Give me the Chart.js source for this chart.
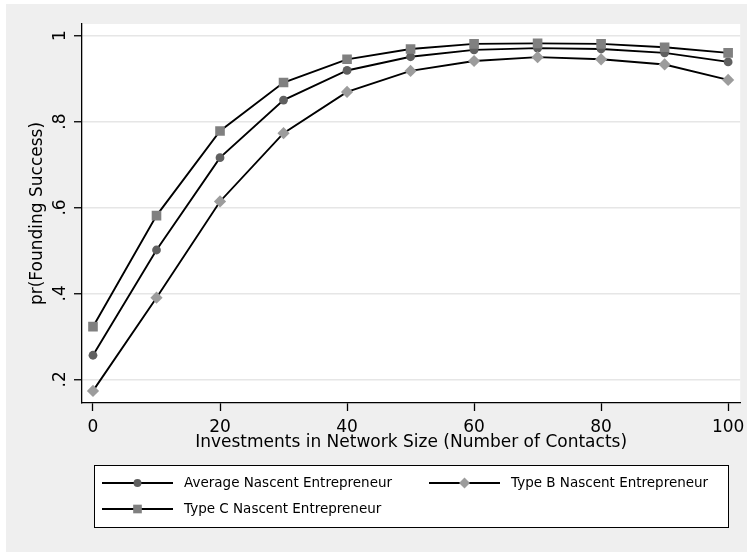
<!DOCTYPE html>
<html>
<head>
<meta charset="utf-8">
<script src="https://cdn.jsdelivr.net/npm/chart.js@4.4.1/dist/chart.umd.min.js"></script>
<style>
html, body { margin: 0; background: #efefef; overflow: hidden; }
#margemTopo { position: fixed; left: 0; top: 0; right: 0; height: 4px; background: #fff; }
#margemEsq { position: fixed; left: 0; top: 0; bottom: 0; width: 6px; background: #fff; }
#quadro { position: absolute; left: 6px; top: 4px; width: 741px; height: 548px; }
#graficoSucesso { display: block; }
</style>
</head>
<body>
<div id="margemTopo"></div>
<div id="margemEsq"></div>
<div id="quadro"><canvas id="graficoSucesso" width="741" height="548"></canvas></div>
<script>
// values
var networkSize = [0, 10, 20, 30, 40, 50, 60, 70, 80, 90, 100];
var averageNascent = [0.256, 0.501, 0.716, 0.850, 0.919, 0.951, 0.967, 0.971, 0.969, 0.960, 0.939];
var typeBNascent = [0.173, 0.390, 0.614, 0.773, 0.869, 0.918, 0.941, 0.950, 0.945, 0.933, 0.897];
var typeCNascent = [0.3225, 0.581, 0.778, 0.891, 0.945, 0.969, 0.981, 0.982, 0.981, 0.973, 0.960];
var seriesNames = ['Average Nascent Entrepreneur', 'Type B Nascent Entrepreneur', 'Type C Nascent Entrepreneur'];
var xTicks = [0, 20, 40, 60, 80, 100];
var yTicks = [0.2, 0.4, 0.6, 0.8, 1];
var yTickLabels = ['.2', '.4', '.6', '.8', '1'];

var fonte = 'DejaVu Sans';

function MontarPontos(valores) {
    return valores.map(function (v, i) { return { x: networkSize[i], y: v }; });
}

function DesenharMarcador(c, estilo, raio, x, y, cor) {
    c.fillStyle = cor;
    c.beginPath();
    if (estilo === 'circle') {
        c.arc(x, y, raio, 0, Math.PI * 2);
    } else if (estilo === 'rectRot') {
        c.moveTo(x - raio, y); c.lineTo(x, y - raio); c.lineTo(x + raio, y); c.lineTo(x, y + raio);
        c.closePath();
    } else {
        var s = raio * Math.SQRT1_2;
        c.rect(x - s, y - s, 2 * s, 2 * s);
    }
    c.fill();
}

var fundoBranco = {
    id: 'fundoBranco',
    beforeDraw: function (chart) {
        var a = chart.chartArea;
        chart.ctx.save();
        chart.ctx.fillStyle = '#fff';
        chart.ctx.fillRect(a.left, a.top, a.right - a.left, a.bottom - a.top);
        chart.ctx.restore();
    }
};

var legendaStata = {
    id: 'legendaStata',
    afterDraw: function (chart) {
        var c = chart.ctx;
        var lugares = [[96, 479], [423, 479], [96, 505]];
        c.save();
        c.fillStyle = '#fff';
        c.fillRect(88.5, 461.5, 634, 62);
        c.strokeStyle = '#000';
        c.lineWidth = 1;
        c.strokeRect(88.5, 461.5, 634, 62);
        chart.data.datasets.forEach(function (ds, i) {
            var x = lugares[i][0], y = lugares[i][1];
            c.strokeStyle = '#000';
            c.lineWidth = 1.8;
            c.beginPath(); c.moveTo(x, y); c.lineTo(x + 71, y); c.stroke();
            DesenharMarcador(c, ds.pointStyle, ds.pointRadius * 0.9, x + 35.5, y, ds.pointBackgroundColor);
            c.fillStyle = '#000';
            c.font = '13.5px "' + fonte + '"';
            c.textBaseline = 'middle';
            c.textAlign = 'left';
            c.fillText(seriesNames[i], x + 82, y);
        });
        c.restore();
    }
};

var ctx = document.getElementById('graficoSucesso').getContext('2d');

var grafico = new Chart(ctx, {
    type: 'line',
    data: {
        datasets: [
            {
                label: seriesNames[0],
                data: MontarPontos(averageNascent),
                borderColor: '#000', borderWidth: 1.9, tension: 0,
                pointStyle: 'circle', pointRadius: 4.4,
                pointBackgroundColor: '#606060', pointBorderColor: '#606060', pointBorderWidth: 0,
                order: 3
            },
            {
                label: seriesNames[1],
                data: MontarPontos(typeBNascent),
                borderColor: '#000', borderWidth: 1.9, tension: 0,
                pointStyle: 'rectRot', pointRadius: 6.1,
                pointBackgroundColor: '#9c9c9c', pointBorderColor: '#9c9c9c', pointBorderWidth: 0,
                order: 2
            },
            {
                label: seriesNames[2],
                data: MontarPontos(typeCNascent),
                borderColor: '#000', borderWidth: 1.9, tension: 0,
                pointStyle: 'rect', pointRadius: 6.8,
                pointBackgroundColor: '#808080', pointBorderColor: '#808080', pointBorderWidth: 0,
                order: 1
            }
        ]
    },
    options: {
        responsive: false,
        animation: false,
        layout: { padding: { top: 20, right: 6, bottom: 99, left: 0 } },
        plugins: { legend: { display: false }, tooltip: { enabled: false } },
        scales: {
            x: {
                type: 'linear', min: -1.73, max: 101.9,
                afterBuildTicks: function (s) { s.ticks = xTicks.map(function (v) { return { value: v }; }); },
                afterFit: function (s) { s.height = 50; s.paddingLeft = 0; s.paddingRight = 0; },
                grid: { drawOnChartArea: false, tickLength: 8, tickColor: '#000', tickWidth: 1.3 },
                border: { color: '#000', width: 1.3 },
                ticks: { font: { family: fonte, size: 17 }, color: '#000', padding: 6, maxRotation: 0 },
                title: {
                    display: true, text: 'Investments in Network Size (Number of Contacts)',
                    font: { family: fonte, size: 17 }, color: '#000', padding: 0
                }
            },
            y: {
                type: 'linear', min: 0.1448, max: 1.0272,
                afterBuildTicks: function (s) { s.ticks = yTicks.map(function (v) { return { value: v }; }); },
                afterFit: function (s) { s.width = 76; s.paddingTop = 0; s.paddingBottom = 0; },
                grid: { color: '#e6e6e6', lineWidth: 1.5, tickLength: 8, tickColor: '#000', tickWidth: 1.3 },
                border: { color: '#000', width: 1.3 },
                ticks: {
                    font: { family: fonte, size: 17 }, color: '#000', padding: 5,
                    minRotation: 90, maxRotation: 90, crossAlign: 'center',
                    callback: function (v) { return yTickLabels[yTicks.indexOf(v)]; }
                },
                title: {
                    display: true, text: 'pr(Founding Success)',
                    font: { family: fonte, size: 17 }, color: '#000', padding: { top: 21, bottom: 0 }
                }
            }
        }
    },
    plugins: [fundoBranco, legendaStata]
});
</script>
</body>
</html>
